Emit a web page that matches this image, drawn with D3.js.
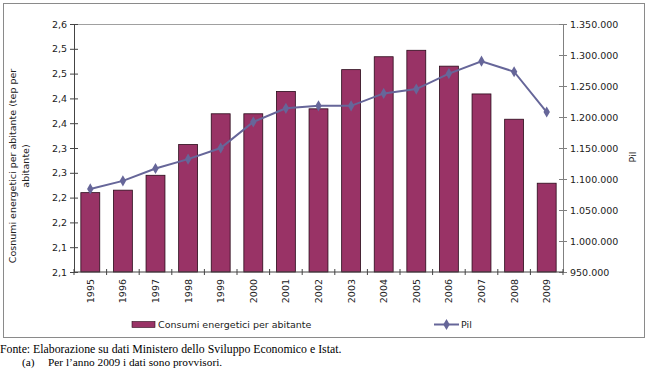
<!DOCTYPE html>
<html lang="it">
<head>
  <meta charset="UTF-8">
  <title>Consumi energetici e Pil</title>
  <style>
    body { margin: 0; background: #fff; }
    svg text { font-family: "DejaVu Sans", Verdana, sans-serif; fill: #222; }
    svg text.note { font-family: "Liberation Serif", "Times New Roman", serif; fill: #000; }
  </style>
</head>
<body>
<div id="chart"></div>

<script src="https://cdn.jsdelivr.net/npm/d3@7/dist/d3.min.js"></script>
<script>
  // data
  const years = ["1995", "1996", "1997", "1998", "1999", "2000", "2001", "2002",
                 "2003", "2004", "2005", "2006", "2007", "2008", "2009"];
  const consumi = [2.260, 2.265, 2.295, 2.357, 2.419, 2.419, 2.464, 2.429,
                   2.508, 2.534, 2.547, 2.515, 2.459, 2.408, 2.279];
  const pil = [1084000, 1097000, 1117000, 1132000, 1150000, 1192000, 1214000, 1218000,
               1218000, 1238000, 1245000, 1270000, 1290000, 1273000, 1208000];
  const leftTicks = [2.1, 2.15, 2.2, 2.25, 2.3, 2.35, 2.4, 2.45, 2.5, 2.55, 2.6];
  const leftTickLabels = ["2,1", "2,1", "2,2", "2,2", "2,3", "2,3", "2,4", "2,4", "2,5", "2,5", "2,6"];
  const rightTicks = [950000, 1000000, 1050000, 1100000, 1150000, 1200000, 1250000, 1300000, 1350000];

  const W = 650, H = 375;
  const margin = {top: 24, right: 87, bottom: 103, left: 74};
  const width = W - margin.left - margin.right,
    height = H - margin.top - margin.bottom;

  const barColor = "#993366", lineColor = "#666699";

  const svg = d3.select("#chart").append("svg")
    .attr("width", W)
    .attr("height", H);

  // outer frame
  svg.append("rect")
    .attr("x", 3.5).attr("y", 3.5)
    .attr("width", 641).attr("height", 334)
    .attr("fill", "#fff")
    .attr("stroke", "#8a8a8a");

  const g = svg.append("g")
    .attr("transform", "translate(" + margin.left + "," + margin.top + ")");

  const x = d3.scaleBand()
    .domain(years)
    .range([0, width])
    .paddingInner(0.42)
    .paddingOuter(0.21);

  const yL = d3.scaleLinear().domain([2.1, 2.6]).range([height, 0]);
  const yR = d3.scaleLinear().domain([950000, 1350000]).range([height, 0]);

  // plot top border
  g.append("line")
    .attr("x1", 0).attr("x2", width)
    .attr("y1", 0.5).attr("y2", 0.5)
    .attr("stroke", "#a0a0a0");

  // bars
  g.selectAll(".bar")
    .data(consumi)
    .join("rect")
    .attr("class", "bar")
    .attr("x", (d, i) => x(years[i]))
    .attr("width", x.bandwidth())
    .attr("y", d => yL(d))
    .attr("height", d => height - yL(d))
    .attr("fill", barColor)
    .attr("stroke", "#2a0a1a")
    .attr("stroke-width", 0.8);

  // left axis
  const leftAxis = g.append("g")
    .call(d3.axisLeft(yL).tickValues(leftTicks)
      .tickFormat((d, i) => leftTickLabels[i])
      .tickSizeInner(4).tickSizeOuter(0).tickPadding(4));
  leftAxis.selectAll(".tick line").attr("x2", 4).attr("x1", -4);
  leftAxis.select(".domain").attr("stroke", "#444");
  leftAxis.selectAll(".tick line").attr("stroke", "#444");
  leftAxis.selectAll("text").attr("font-size", 9.5).attr("x", -7);

  // right axis
  const rightAxis = g.append("g")
    .attr("transform", "translate(" + width + ",0)")
    .call(d3.axisRight(yR).tickValues(rightTicks)
      .tickFormat(d => d3.format(",")(d).replace(/,/g, "."))
      .tickSizeInner(4).tickSizeOuter(0).tickPadding(4));
  rightAxis.selectAll(".tick line").attr("x1", -4).attr("x2", 4);
  rightAxis.select(".domain").attr("stroke", "#808080");
  rightAxis.selectAll(".tick line").attr("stroke", "#808080");
  rightAxis.selectAll("text").attr("font-size", 9.5).attr("x", 7);

  // bottom axis, ticks between categories
  const bottom = g.append("g").attr("transform", "translate(0," + height + ")");
  bottom.append("line")
    .attr("x1", 0).attr("x2", width)
    .attr("stroke", "#444");
  const step = x.step();
  bottom.selectAll(".sep")
    .data(d3.range(years.length + 1))
    .join("line")
    .attr("class", "sep")
    .attr("x1", i => x(years[0]) - x.paddingOuter() * step + i * step)
    .attr("x2", i => x(years[0]) - x.paddingOuter() * step + i * step)
    .attr("y1", -3).attr("y2", 3)
    .attr("stroke", "#444");
  bottom.selectAll(".yr")
    .data(years)
    .join("text")
    .attr("class", "yr")
    .attr("transform", d => "translate(" + (x(d) + x.bandwidth() / 2 + 3.5) + ",7) rotate(-90)")
    .attr("text-anchor", "end")
    .attr("font-size", 9.5)
    .text(d => d);

  // Pil line
  const line = d3.line()
    .x((d, i) => x(years[i]) + x.bandwidth() / 2)
    .y(d => yR(d));

  g.append("path")
    .datum(pil)
    .attr("fill", "none")
    .attr("stroke", lineColor)
    .attr("stroke-width", 2)
    .attr("d", line);

  const diamond = d3.symbol().type(d3.symbolDiamond).size(36);
  g.selectAll(".pt")
    .data(pil)
    .join("path")
    .attr("class", "pt")
    .attr("transform", (d, i) => "translate(" + (x(years[i]) + x.bandwidth() / 2) + "," + yR(d) + ")")
    .attr("d", diamond)
    .attr("fill", lineColor);

  // axis titles
  const leftTitle = svg.append("text")
    .attr("transform", "translate(16,166) rotate(-90)")
    .attr("text-anchor", "middle")
    .attr("font-size", 9.5);
  leftTitle.append("tspan").attr("x", 0).attr("dy", 0).text("Cosnumi energetici per abitante (tep per");
  leftTitle.append("tspan").attr("x", 0).attr("dy", 13).text("abitante)");

  svg.append("text")
    .attr("transform", "translate(636,157) rotate(-90)")
    .attr("text-anchor", "middle")
    .attr("font-size", 9.5)
    .text("Pil");

  // legend
  const legend = svg.append("g");
  legend.append("rect")
    .attr("x", 132).attr("y", 321.5)
    .attr("width", 23).attr("height", 6)
    .attr("fill", barColor)
    .attr("stroke", "#2a0a1a")
    .attr("stroke-width", 0.6);
  legend.append("text")
    .attr("x", 158).attr("y", 328)
    .attr("font-size", 9.5)
    .text("Consumi energetici per abitante");
  legend.append("line")
    .attr("x1", 434).attr("x2", 459)
    .attr("y1", 324.5).attr("y2", 324.5)
    .attr("stroke", lineColor)
    .attr("stroke-width", 2);
  legend.append("path")
    .attr("transform", "translate(446.5,324.5)")
    .attr("d", diamond)
    .attr("fill", lineColor);
  legend.append("text")
    .attr("x", 461).attr("y", 328)
    .attr("font-size", 9.5)
    .text("Pil");

  // source notes under the frame
  svg.append("text")
    .attr("class", "note")
    .attr("x", 0).attr("y", 353)
    .attr("font-size", 11.8)
    .text("Fonte: Elaborazione su dati Ministero dello Sviluppo Economico e Istat.");
  svg.append("text")
    .attr("class", "note")
    .attr("x", 22).attr("y", 366)
    .attr("font-size", 11.3)
    .text("(a)");
  svg.append("text")
    .attr("class", "note")
    .attr("x", 48).attr("y", 366)
    .attr("font-size", 11.3)
    .text("Per l\u2019anno 2009 i dati sono provvisori.");
</script>
</body>
</html>
